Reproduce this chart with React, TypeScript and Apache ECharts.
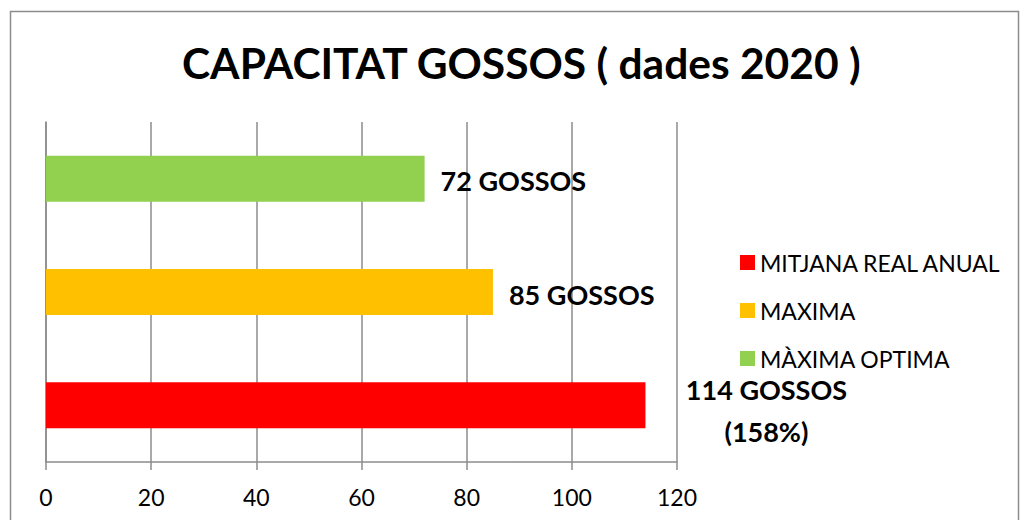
import React, { useEffect, useRef } from "react";
import * as echarts from "echarts";

const categories = ["MITJANA REAL ANUAL", "MAXIMA", "MÀXIMA OPTIMA"];
const values = [114, 85, 72];
const colors = ["#ff0000", "#ffc000", "#92d050"];
const labels = ["{a|114 GOSSOS}\n{a|(158%)}", "85 GOSSOS", "72 GOSSOS"];
const xTicks = [0, 20, 40, 60, 80, 100, 120];

export default function App() {
  const ref = useRef<HTMLDivElement>(null);
  useEffect(() => {
    document.body.style.margin = "0";
    const chart = echarts.init(ref.current!, null, { renderer: "svg" });
    const font = "Lato, 'Open Sans', sans-serif";
    const series = categories.map((name, i) => ({
      name,
      type: "bar",
      barWidth: 46,
      barGap: "-100%",
      data: categories.map((_, j) => (j === i ? values[i] : "-")),
      itemStyle: { color: colors[i] },
      label: {
        show: true,
        position: "right",
        distance: i === 0 ? 38 : 16,
        offset: i === 0 ? [0, 5] : [0, 2],
        formatter: labels[i],
        fontFamily: font,
        fontWeight: "bold",
        fontSize: 27,
        color: "#000",
        lineHeight: 42,
        rich: {
          a: {
            fontFamily: font,
            fontWeight: "bold",
            fontSize: 27,
            color: "#000",
            lineHeight: 42,
            width: 166,
            align: "center",
          },
        },
      },
    }));
    chart.setOption({
      animation: false,
      title: {
        text: "CAPACITAT GOSSOS ( dades 2020 )",
        left: 177,
        top: 36,
        textStyle: { fontFamily: font, fontWeight: "bold", fontSize: 42.5, color: "#000" },
      },
      legend: {
        orient: "vertical",
        left: 740,
        top: 251,
        padding: 0,
        itemWidth: 15,
        itemHeight: 15,
        itemGap: 25,
        icon: "rect",
        textStyle: { fontFamily: font, fontSize: 23, color: "#000", padding: [0, 0, 0, 0] },
        data: categories,
      },
      grid: { left: 46, right: 344, top: 122, bottom: 58, containLabel: false },
      xAxis: {
        type: "value",
        min: xTicks[0],
        max: xTicks[xTicks.length - 1],
        interval: 20,
        axisLine: { show: true, lineStyle: { color: "#8c8c8c", width: 1.5 } },
        axisTick: { show: true, length: 8, lineStyle: { color: "#8c8c8c", width: 1.5 } },
        splitLine: { show: true, lineStyle: { color: "#8c8c8c", width: 1.5 } },
        axisLabel: { fontFamily: font, fontSize: 23, color: "#000", margin: 23 },
      },
      yAxis: {
        type: "category",
        data: categories,
        axisLine: { show: true, lineStyle: { color: "#8c8c8c", width: 1.5 } },
        axisTick: { show: false },
        axisLabel: { show: false },
      },
      graphic: [
        {
          type: "rect",
          shape: { x: 10.5, y: 11.5, width: 1008, height: 600 },
          style: { fill: "none", stroke: "#8c8c8c", lineWidth: 1.5 },
          silent: true,
        },
      ],
      series,
    });
    return () => chart.dispose();
  }, []);
  return <div ref={ref} style={{ width: 1021, height: 520 }} />;
}
